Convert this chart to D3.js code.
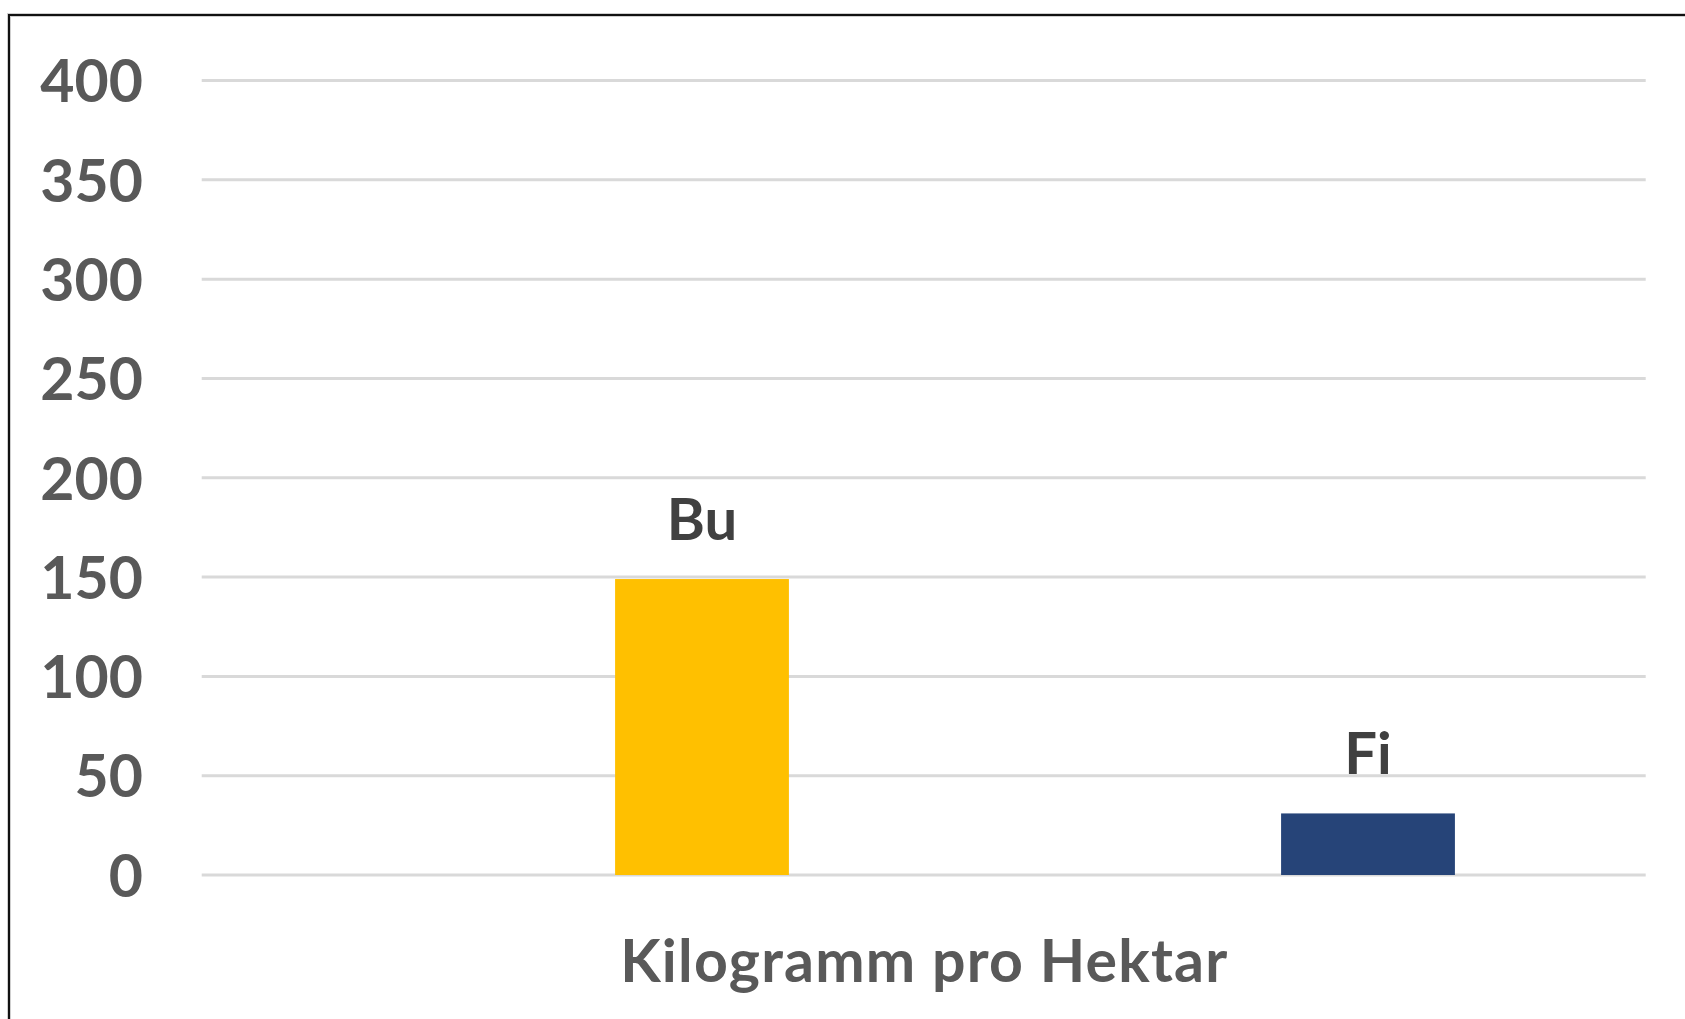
<!DOCTYPE html>
<html>
<head>
<meta charset="utf-8">
<script src="https://cdn.jsdelivr.net/npm/d3@7"></script>
<style>
  html, body { margin: 0; padding: 0; background: #fff; overflow: hidden; }
  svg { display: block; }
  text { font-family: Lato, "Open Sans", sans-serif; font-weight: 700; }
</style>
</head>
<body>
<svg id="chart" width="1685" height="1019"></svg>
<script>
// ---- data ----
const category = ["Kilogramm pro Hektar"];
const seriesNames = ["Bu", "Fi"];
const seriesValues = [149, 31];
const seriesColors = ["#FFC000", "#264478"];
const yTicks = [0, 50, 100, 150, 200, 250, 300, 350, 400];

// ---- layout ----
const W = 1685, H = 1019;
const plotLeft = 201.7, plotRight = 1645.7;
const svg = d3.select("#chart");

// border (top + left)
svg.append("path")
  .attr("d", `M9,${H + 5} L9,15 L${W + 5},15`)
  .attr("fill", "none")
  .attr("stroke", "#cfcfcf")
  .attr("stroke-width", 4);
svg.append("path")
  .attr("d", `M9,${H + 5} L9,15 L${W + 5},15`)
  .attr("fill", "none")
  .attr("stroke", "#111")
  .attr("stroke-width", 2);

const y = d3.scaleLinear().domain([0, 400]).range([875, 80.5]);
const x = d3.scaleBand()
  .domain(seriesNames)
  .range([369, 1701])
  .paddingInner(0.739)
  .paddingOuter(0.3695);

// gridlines
svg.append("g").selectAll("line")
  .data(yTicks)
  .join("line")
  .attr("x1", plotLeft).attr("x2", plotRight)
  .attr("y1", d => y(d)).attr("y2", d => y(d))
  .attr("stroke", "#d9d9d9")
  .attr("stroke-width", 3);

// y axis labels
const yAxis = d3.axisLeft(y).tickValues(yTicks).tickSize(0).tickPadding(0);
const gy = svg.append("g").attr("transform", "translate(143,0)").call(yAxis);
gy.select(".domain").remove();
gy.selectAll("text")
  .attr("fill", "#595959")
  .style("font-size", "59px")
  .style("font-family", "Lato, sans-serif")
  .style("font-weight", "700")
  .attr("dy", "0.36em");

// bars
const data = seriesNames.map((n, i) => ({ name: n, value: seriesValues[i], color: seriesColors[i] }));
svg.append("g").selectAll("rect")
  .data(data)
  .join("rect")
  .attr("x", d => x(d.name))
  .attr("width", x.bandwidth())
  .attr("y", d => y(d.value))
  .attr("height", d => y(0) - y(d.value))
  .attr("fill", d => d.color);

// data labels (series names)
svg.append("g").selectAll("text")
  .data(data)
  .join("text")
  .attr("x", d => x(d.name) + x.bandwidth() / 2)
  .attr("y", d => y(d.value) - 39)
  .attr("text-anchor", "middle")
  .attr("fill", "#404040")
  .style("font-size", "58px")
  .text(d => d.name);

// category label
svg.append("text")
  .attr("x", (plotLeft + plotRight) / 2)
  .attr("y", 981.7)
  .attr("text-anchor", "middle")
  .attr("fill", "#595959")
  .attr("textLength", 607)
  .attr("lengthAdjust", "spacing")
  .style("font-size", "59px")
  .text(category[0]);
</script>
</body>
</html>
